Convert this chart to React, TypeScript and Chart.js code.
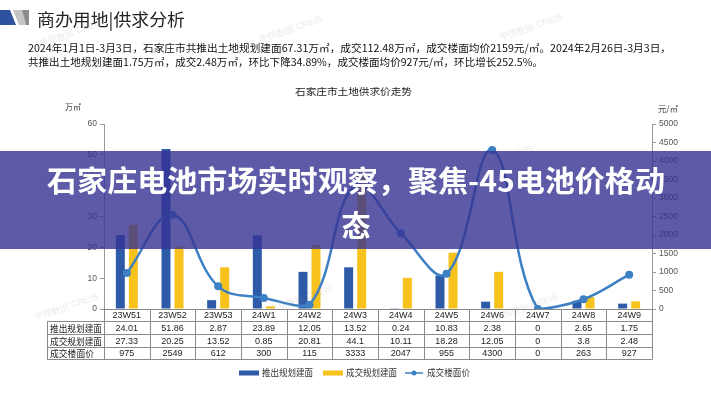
import React, { useEffect, useRef } from "react";
import { Chart, registerables } from "chart.js";
Chart.register(...registerables);

const categories = ["23W51", "23W52", "23W53", "24W1", "24W2", "24W3", "24W4", "24W5", "24W6", "24W7", "24W8", "24W9"];
const supplyArea = [24.01, 51.86, 2.87, 23.89, 12.05, 13.52, 0.24, 10.83, 2.38, 0, 2.65, 1.75];
const dealArea = [27.33, 20.25, 13.52, 0.85, 20.81, 44.1, 10.11, 18.28, 12.05, 0, 3.8, 2.48];
const dealPrice = [975, 2549, 612, 300, 115, 3333, 2047, 955, 4300, 0, 263, 927];
const seriesNames = ["推出规划建面", "成交规划建面", "成交楼面价"];
const supplyText = ["24.01", "51.86", "2.87", "23.89", "12.05", "13.52", "0.24", "10.83", "2.38", "0", "2.65", "1.75"];
const dealText = ["27.33", "20.25", "13.52", "0.85", "20.81", "44.1", "10.11", "18.28", "12.05", "0", "3.8", "2.48"];
const priceText = ["975", "2549", "612", "300", "115", "3333", "2047", "955", "4300", "0", "263", "927"];

const headerTitle = "商办用地|供求分析";
const summary1 = "2024年1月1日-3月3日，石家庄市共推出土地规划建面67.31万㎡，成交112.48万㎡，成交楼面均价2159元/㎡。2024年2月26日-3月3日，";
const summary2 = "共推出土地规划建面1.75万㎡，成交2.48万㎡，环比下降34.89%，成交楼面均价927元/㎡，环比增长252.5%。";
const chartTitle = "石家庄市土地供求价走势";
const leftUnit = "万㎡";
const rightUnit = "元/㎡";
const bannerLine1 = "石家庄电池市场实时观察，聚焦-45电池价格动";
const bannerLine2 = "态";
const watermark = "中指数据 CREIS";

const BLUE = "#2e5ba8";
const YELLOW = "#f6c21b";
const LINE = "#3d80c3";
const CJK = "'Noto Sans CJK SC', 'Noto Sans', sans-serif";
const NUM = "'Liberation Sans', Arial, sans-serif";

function fitText(ctx: CanvasRenderingContext2D, text: string, x: number, y: number, w: number) {
  const m = ctx.measureText(text).width;
  ctx.save();
  ctx.translate(x, y);
  ctx.scale(w / m, 1);
  ctx.textAlign = "left";
  ctx.fillText(text, 0, 0);
  ctx.restore();
}

const decor = {
  id: "decor",
  beforeDraw(chart: any) {
    const ctx: CanvasRenderingContext2D = chart.ctx;
    ctx.save();
    ctx.fillStyle = "#ffffff";
    ctx.fillRect(0, 0, chart.width, chart.height);
    // header icon
    ctx.fillStyle = "#2f52a0";
    ctx.beginPath();
    ctx.moveTo(0, 10); ctx.lineTo(10, 10); ctx.lineTo(16, 25); ctx.lineTo(0, 25); ctx.closePath(); ctx.fill();
    ctx.fillStyle = "#c4c4c4";
    ctx.beginPath();
    ctx.moveTo(13, 10); ctx.lineTo(22, 10); ctx.lineTo(26, 25); ctx.lineTo(19, 25); ctx.closePath(); ctx.fill();
    ctx.fillStyle = "#8c8c8c";
    ctx.beginPath();
    ctx.moveTo(22, 10); ctx.lineTo(29, 10); ctx.lineTo(29, 25); ctx.lineTo(26, 25); ctx.closePath(); ctx.fill();
    // title
    ctx.fillStyle = "#222";
    ctx.textBaseline = "middle";
    ctx.font = `17px ${CJK}`;
    fitText(ctx, headerTitle, 37, 20, 148);
    ctx.font = `10.5px ${CJK}`;
    ctx.fillStyle = "#111";
    fitText(ctx, summary1, 28, 48, 643);
    fitText(ctx, summary2, 28, 62, 515);
    ctx.font = `9.5px ${CJK}`;
    ctx.fillStyle = "#222";
    fitText(ctx, chartTitle, 295, 91, 117);
    ctx.font = `8.5px ${CJK}`;
    ctx.fillStyle = "#444";
    fitText(ctx, leftUnit, 65, 107, 16);
    fitText(ctx, rightUnit, 658, 109, 20);
    ctx.restore();
  },
  afterDraw(chart: any) {
    const ctx: CanvasRenderingContext2D = chart.ctx;
    const xs = chart.scales.x;
    const area = chart.chartArea;
    const n = categories.length;
    const w = (area.right - area.left) / n;
    ctx.save();
    // table
    const rows = [area.bottom, 321, 334, 347, 359];
    ctx.strokeStyle = "#8a8a8a";
    ctx.lineWidth = 1;
    ctx.beginPath();
    ctx.moveTo(area.left, rows[0] + 0.5); ctx.lineTo(area.right, rows[0] + 0.5);
    for (let r = 1; r < rows.length; r++) {
      ctx.moveTo(47, rows[r] + 0.5); ctx.lineTo(area.right, rows[r] + 0.5);
    }
    for (let i = 0; i <= n; i++) {
      const x = Math.round(area.left + i * w) + 0.5;
      ctx.moveTo(x, rows[0]); ctx.lineTo(x, rows[4] + 0.5);
    }
    ctx.moveTo(47.5, rows[1]); ctx.lineTo(47.5, rows[4] + 0.5);
    ctx.stroke();
    ctx.fillStyle = "#222";
    ctx.textBaseline = "middle";
    ctx.textAlign = "center";
    ctx.font = `9px ${NUM}`;
    const rowData = [categories, supplyText, dealText, priceText];
    for (let r = 0; r < 4; r++) {
      const cy = (rows[r] + rows[r + 1]) / 2 + 1;
      for (let i = 0; i < n; i++) {
        ctx.fillText(rowData[r][i], xs.getPixelForValue(i), cy);
      }
    }
    ctx.font = `9px ${CJK}`;
    ctx.textAlign = "left";
    for (let r = 0; r < 3; r++) {
      const cy = (rows[r + 1] + rows[r + 2]) / 2 + 1;
      fitText(ctx, seriesNames[r], 50, cy, r === 2 ? 44 : 52);
    }
    // legend
    const ly = 373;
    ctx.fillStyle = BLUE;
    ctx.fillRect(239, ly - 2.5, 20, 5);
    ctx.fillStyle = YELLOW;
    ctx.fillRect(323, ly - 2.5, 20, 5);
    ctx.strokeStyle = LINE;
    ctx.lineWidth = 1.5;
    ctx.beginPath(); ctx.moveTo(405, ly); ctx.lineTo(423, ly); ctx.stroke();
    ctx.fillStyle = LINE;
    ctx.beginPath(); ctx.arc(414, ly, 2.5, 0, Math.PI * 2); ctx.fill();
    ctx.fillStyle = "#333";
    ctx.font = `9px ${CJK}`;
    fitText(ctx, seriesNames[0], 262, ly, 51);
    fitText(ctx, seriesNames[1], 346, ly, 51);
    fitText(ctx, seriesNames[2], 427, ly, 43);
    // watermarks
    ctx.fillStyle = "rgba(150,150,150,0.22)";
    ctx.font = `9px ${NUM}`;
    const wm: [number, number][] = [[40, 44], [260, 40], [500, 38], [35, 185], [470, 170], [35, 318], [270, 310], [495, 318]];
    for (const [x, y] of wm) {
      ctx.save();
      ctx.translate(x, y);
      ctx.rotate(-0.33);
      ctx.fillText(watermark, 0, 0);
      ctx.restore();
    }
    // banner
    ctx.fillStyle = "rgba(52,50,146,0.8)";
    ctx.fillRect(0, 151, chart.width, 98);
    ctx.fillStyle = "#ffffff";
    ctx.font = `bold 29px ${CJK}`;
    ctx.textBaseline = "middle";
    fitText(ctx, bannerLine1, 47, 181, 618);
    ctx.textAlign = "center";
    ctx.fillText(bannerLine2, 356, 226);
    ctx.restore();
  },
};

export default function App() {
  const ref = useRef<HTMLCanvasElement>(null);
  useEffect(() => {
    if (!ref.current) return;
    const chart = new Chart(ref.current, {
      type: "bar",
      data: {
        labels: categories,
        datasets: [
          {
            type: "line",
            label: seriesNames[2],
            data: dealPrice,
            yAxisID: "y1",
            borderColor: LINE,
            backgroundColor: LINE,
            borderWidth: 2.5,
            pointRadius: 4,
            pointBackgroundColor: LINE,
            pointBorderWidth: 0,
            tension: 0.4,
            order: 0,
          } as any,
          {
            type: "bar",
            label: seriesNames[0],
            data: supplyArea,
            yAxisID: "y",
            backgroundColor: BLUE,
            categoryPercentage: 0.57,
            barPercentage: 0.69,
            order: 1,
          },
          {
            type: "bar",
            label: seriesNames[1],
            data: dealArea,
            yAxisID: "y",
            backgroundColor: YELLOW,
            categoryPercentage: 0.57,
            barPercentage: 0.69,
            order: 1,
          },
        ],
      },
      options: {
        responsive: false,
        animation: false,
        devicePixelRatio: 1,
        layout: { padding: { top: 124, bottom: 91, left: 0, right: 0 } },
        plugins: { legend: { display: false }, tooltip: { enabled: false } },
        scales: {
          x: { display: false, offset: true },
          y: {
            position: "left",
            min: 0,
            max: 60,
            ticks: { stepSize: 10, color: "#555", font: { family: NUM, size: 8.5 }, padding: 3, callback: (v: any) => String(v) },
            grid: { drawOnChartArea: false, drawTicks: true, tickLength: 4, color: "#9a9a9a" },
            border: { display: true, color: "#9a9a9a" },
            afterFit: (s: any) => { s.width = 104; },
          },
          y1: {
            position: "right",
            min: 0,
            max: 5000,
            ticks: { stepSize: 500, color: "#555", font: { family: NUM, size: 8.5 }, padding: 3, callback: (v: any) => String(v) },
            grid: { drawOnChartArea: false, drawTicks: true, tickLength: 4, color: "#9a9a9a" },
            border: { display: true, color: "#9a9a9a" },
            afterFit: (s: any) => { s.width = 59; },
          },
        },
      } as any,
      plugins: [decor],
    });
    return () => chart.destroy();
  }, []);
  return (
    <div style={{ position: "fixed", left: 0, top: 0, width: 711, height: 400, background: "#fff" }}>
      <canvas ref={ref} width={711} height={400} style={{ display: "block", width: 711, height: 400 }} />
    </div>
  );
}
